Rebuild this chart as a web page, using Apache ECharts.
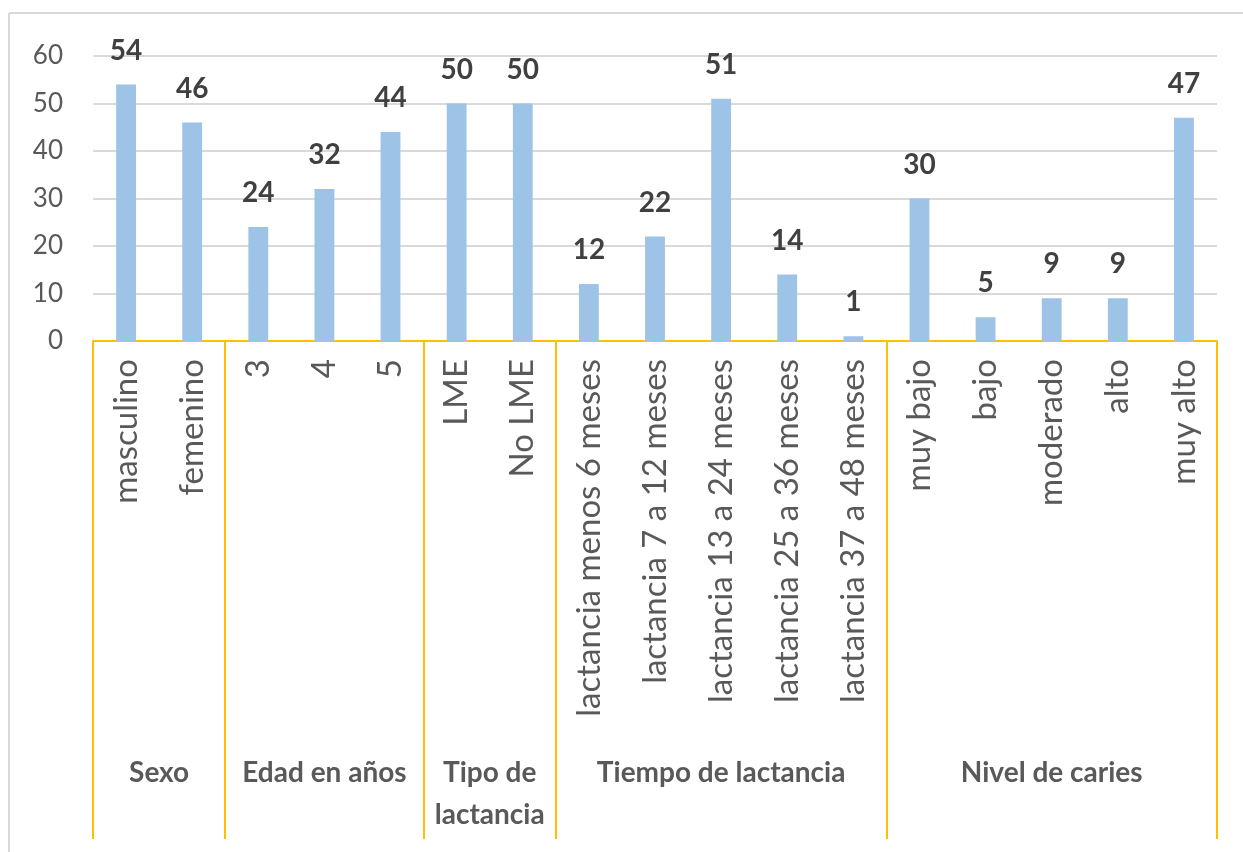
<!DOCTYPE html>
<html>
<head>
<meta charset="utf-8">
<script src="https://cdn.jsdelivr.net/npm/echarts@6/dist/echarts.min.js"></script>
<style>html,body{margin:0;padding:0;background:#fff}#c{width:1243px;height:852px}</style>
</head>
<body>
<div id="c"></div>
<script>
const categories = ['masculino','femenino','3','4','5','LME','No LME','lactancia menos 6 meses','lactancia 7 a 12 meses','lactancia 13 a 24 meses','lactancia 25 a 36 meses','lactancia 37 a 48 meses','muy bajo','bajo','moderado','alto','muy alto'];
const values = [54,46,24,32,44,50,50,12,22,51,14,1,30,5,9,9,47];
const groupNames = ['Sexo','Edad en años','Tipo de\nlactancia','Tiempo de lactancia','Nivel de caries'];
const groupBounds = [0,2,5,7,12,17];
const yTicks = [0,10,20,30,40,50,60];

const groupCenters = groupNames.map((g,i)=>(groupBounds[i]+groupBounds[i+1])/2);
const FONT = 'Lato';
const chart = echarts.init(document.getElementById('c'), null, {renderer:'canvas'});
chart.setOption({
  animation:false,
  backgroundColor:'#fff',
  grid:{left:93,right:26,top:56,bottom:511,containLabel:false},
  graphic:[
    {type:'line',shape:{x1:9,y1:13,x2:1243,y2:13},style:{stroke:'#D9D9D9',lineWidth:2}},
    {type:'line',shape:{x1:9,y1:13,x2:9,y2:852},style:{stroke:'#D9D9D9',lineWidth:2}}
  ],
  xAxis:[{
    type:'category',data:categories,boundaryGap:true,
    axisLine:{show:true,lineStyle:{color:'#FFC000',width:2}},
    axisTick:{show:false},
    axisLabel:{rotate:90,margin:18,fontFamily:FONT,fontSize:33,color:'#595959',interval:0}
  },{
    type:'value',min:0,max:17,position:'bottom',
    axisLine:{show:false},
    splitLine:{show:false},
    axisTick:{show:true,customValues:groupBounds,length:498,inside:false,lineStyle:{color:'#FFC000',width:2}},
    axisLabel:{show:true,customValues:groupCenters,margin:411,fontFamily:FONT,fontSize:28,fontWeight:'bold',color:'#595959',lineHeight:42,
      formatter:(v)=>{const i=groupCenters.indexOf(v);return i>=0?groupNames[i]:'';}}
  }],
  yAxis:{
    type:'value',min:0,max:60,interval:10,
    axisLine:{show:false},axisTick:{show:false},
    axisLabel:{margin:30,fontFamily:FONT,fontSize:26,color:'#595959',customValues:yTicks},
    splitLine:{lineStyle:{color:'#D9D9D9',width:2}}
  },
  series:[{
    type:'bar',data:values,xAxisIndex:0,barWidth:'30%',
    itemStyle:{color:'#9DC3E6'},
    label:{show:true,position:'top',distance:20,fontFamily:FONT,fontSize:28,fontWeight:'bold',color:'#404040'}
  }]
});
</script>
</body>
</html>
